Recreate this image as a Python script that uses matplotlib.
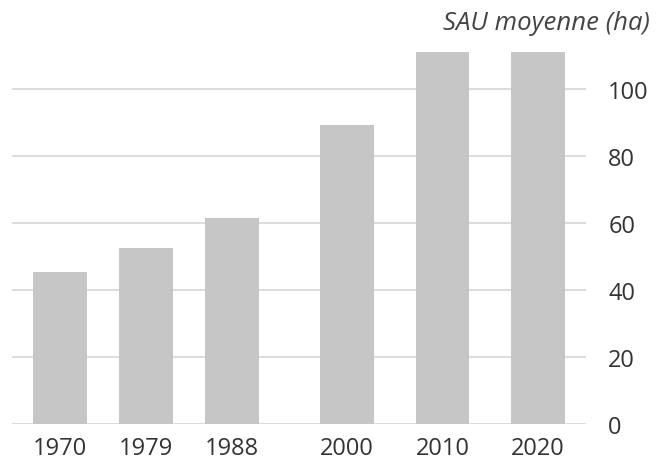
import matplotlib
matplotlib.use("Agg")
import matplotlib.pyplot as plt

years = [1970, 1979, 1988, 2000, 2010, 2020]
sau = [45.5, 52.4, 61.4, 89.3, 112, 112]
yticks = [0, 20, 40, 60, 80, 100]

plt.rcParams["font.family"] = ["Open Sans", "DejaVu Sans"]

fig = plt.figure(figsize=(6.61, 4.64), dpi=100)
ax = fig.add_axes([12 / 661, 39 / 464, 574 / 661, 372.3 / 464])

ax.bar(years, sau, width=5.6, color="#c6c6c6", zorder=2)

ax.set_xlim(1965, 2025)
ax.set_ylim(0, 111.1)
ax.set_xticks(years)
ax.set_xticklabels([str(y) for y in years])
ax.set_yticks(yticks)

ax.yaxis.tick_right()
ax.grid(axis="y", color="#d9d9d9", linewidth=1.3, zorder=0)
for s in ax.spines.values():
    s.set_visible(False)
ax.tick_params(axis="both", length=0, labelsize=17, labelcolor="#333333")
ax.tick_params(axis="y", pad=16)
ax.tick_params(axis="x", pad=9)
for lbl in ax.get_yticklabels():
    lbl.set_horizontalalignment("left")

fig.text(650 / 661, 1 - 30 / 464, "SAU moyenne (ha)", ha="right", va="baseline",
         fontsize=18.5, style="italic", color="#444444")

fig.savefig("out.png", dpi=100)
